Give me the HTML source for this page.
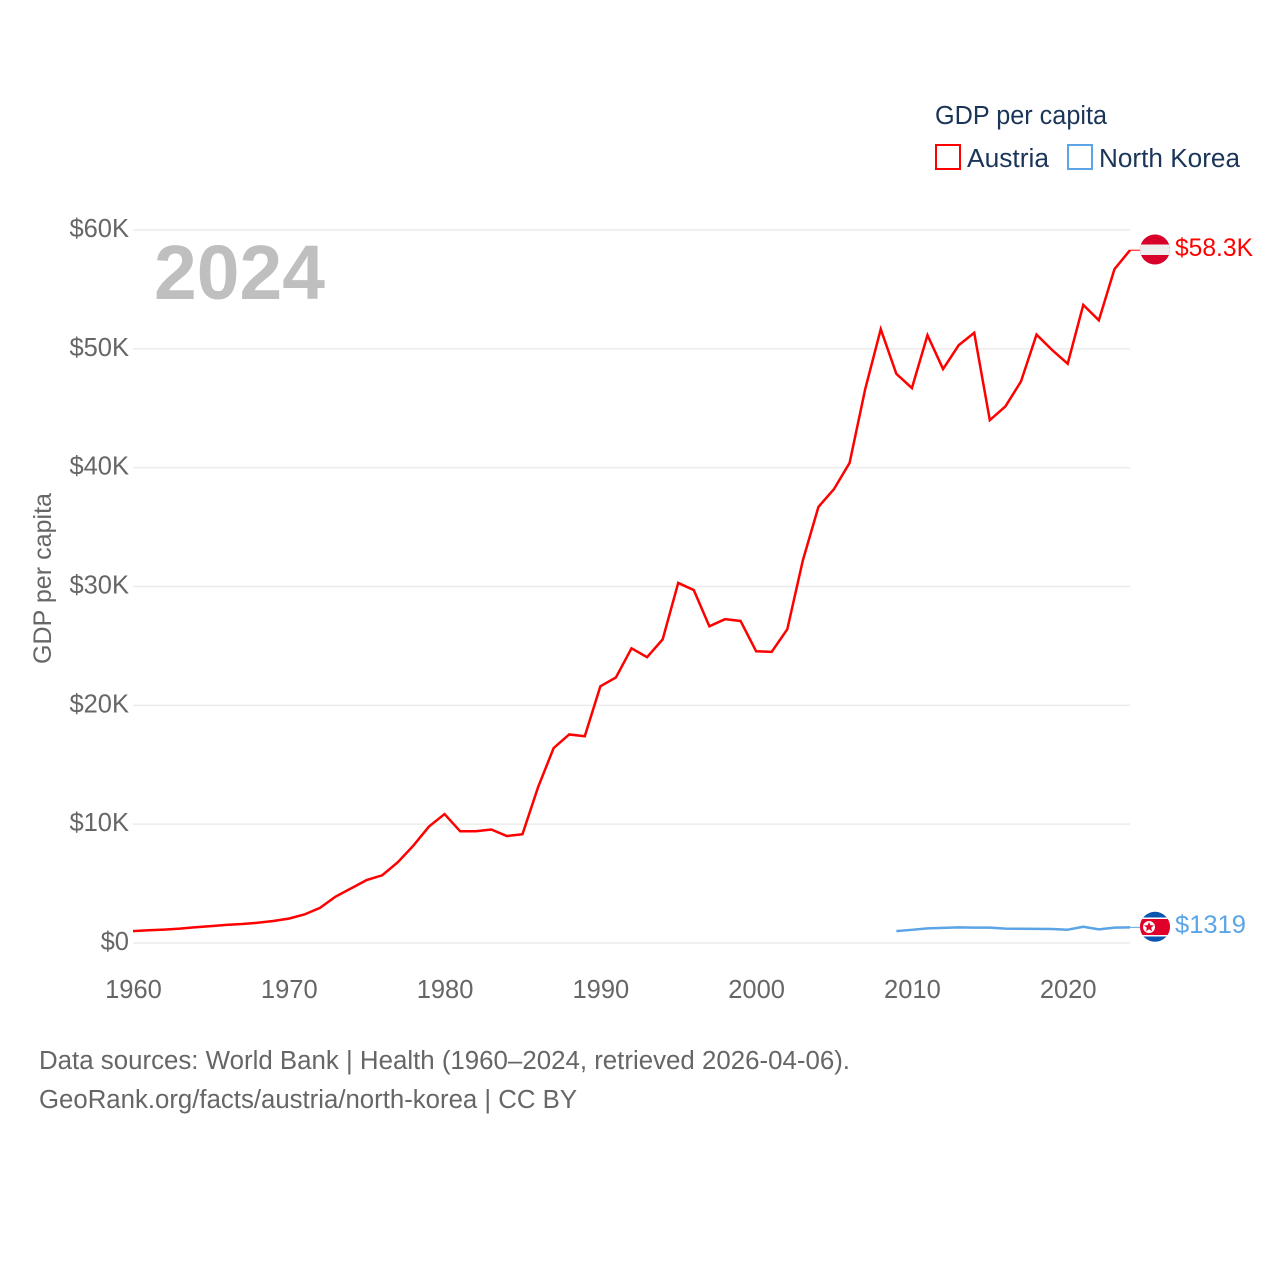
<!DOCTYPE html>
<html lang="en">
<head>
<meta charset="utf-8">
<title>GDP per capita: Austria and North Korea</title>
<style>
  html, body { margin: 0; padding: 0; background: #fff; }
  svg { display: block; font-family: "Liberation Sans", sans-serif; }
  .tick { font-size: 25.5px; fill: #666; }
</style>
</head>
<body>
<svg id="chart" width="1280" height="1280" viewBox="0 0 1280 1280" xmlns="http://www.w3.org/2000/svg">
  <defs>
    <clipPath id="clip-at"><circle cx="1155" cy="249.5" r="15"/></clipPath>
    <clipPath id="clip-kp"><circle cx="1155" cy="926.8" r="15"/></clipPath>
  </defs>
  <rect width="1280" height="1280" fill="#fff"/>

  <g id="grid"></g>
  <g id="y-ticks"></g>
  <g id="x-ticks"></g>

  <text x="154" y="299" font-size="77" font-weight="700" fill="#bfbfbf" textLength="171" lengthAdjust="spacingAndGlyphs">2024</text>

  <text transform="translate(51,664) rotate(-90)" font-size="25" fill="#666" textLength="171" lengthAdjust="spacingAndGlyphs">GDP per capita</text>

  <g id="series"></g>

  <g clip-path="url(#clip-at)">
    <rect x="1139" y="233" width="32" height="33" fill="#d8002a"/>
    <rect x="1139" y="244.5" width="32" height="10.5" fill="#eeeeee"/>
  </g>
  <g clip-path="url(#clip-kp)">
    <rect x="1139" y="910" width="32" height="34" fill="#0b55b0"/>
    <rect x="1139" y="917.5" width="32" height="19" fill="#ffffff"/>
    <rect x="1139" y="919" width="32" height="16" fill="#e0002a"/>
    <circle cx="1149" cy="927" r="6" fill="#fff"/>
    <polygon points="1149,921.8 1150.3,925.3 1154,925.4 1151.1,927.7 1152.1,931.3 1149,929.2 1145.9,931.3 1146.9,927.7 1144,925.4 1147.7,925.3" fill="#e0002a"/>
  </g>

  <text x="1175" y="256" font-size="25" fill="#ff0000" textLength="78" lengthAdjust="spacingAndGlyphs">$58.3K</text>
  <text x="1175" y="933" font-size="25" fill="#5ba4e6" textLength="71" lengthAdjust="spacingAndGlyphs">$1319</text>

  <g>
    <text x="935" y="124" font-size="25.5" fill="#1a3557" textLength="172" lengthAdjust="spacingAndGlyphs">GDP per capita</text>
    <g>
      <rect x="936" y="145" width="24" height="24" fill="none" stroke="#ff0000" stroke-width="2"/>
      <text x="967" y="167" font-size="25.5" fill="#1a3557" textLength="82" lengthAdjust="spacingAndGlyphs">Austria</text>
    </g>
    <g>
      <rect x="1068" y="145" width="24" height="24" fill="none" stroke="#5ba4e6" stroke-width="2"/>
      <text x="1099" y="167" font-size="25.5" fill="#1a3557" textLength="141" lengthAdjust="spacingAndGlyphs">North Korea</text>
    </g>
  </g>

  <text x="39" y="1069" font-size="25.5" fill="#666" textLength="811" lengthAdjust="spacingAndGlyphs">Data sources: World Bank | Health (1960–2024, retrieved 2026-04-06).</text>
  <text x="39" y="1108" font-size="25.5" fill="#666" textLength="538" lengthAdjust="spacingAndGlyphs">GeoRank.org/facts/austria/north-korea | CC BY</text>
</svg>

<script>
const yTicks = [0, 10, 20, 30, 40, 50, 60];
const yTickLabels = ["$0", "$10K", "$20K", "$30K", "$40K", "$50K", "$60K"];
const xTicks = [1960, 1970, 1980, 1990, 2000, 2010, 2020];
const austriaStartYear = 1960;
const austriaValues = [
  1.00, 1.07, 1.13, 1.21, 1.33, 1.42, 1.53, 1.60, 1.70, 1.85,
  2.05, 2.40, 2.95, 3.90, 4.60, 5.30, 5.70, 6.80, 8.20, 9.80,
  10.85, 9.40, 9.40, 9.55, 9.00, 9.15, 13.10, 16.40, 17.55, 17.40,
  21.60, 22.35, 24.80, 24.05, 25.55, 30.30, 29.70, 26.65, 27.25, 27.10,
  24.55, 24.50, 26.40, 32.20, 36.70, 38.20, 40.40, 46.60, 51.65, 47.90,
  46.70, 51.15, 48.30, 50.30, 51.35, 44.00, 45.15, 47.25, 51.20, 49.90,
  48.75, 53.70, 52.40, 56.70, 58.30
];
const koreaStartYear = 2009;
const koreaValues = [
  1.00, 1.11, 1.23, 1.27, 1.31, 1.29, 1.29, 1.21, 1.20, 1.19,
  1.18, 1.12, 1.37, 1.15, 1.29, 1.319
];

const NS = "http://www.w3.org/2000/svg";
const xScale = year => 133 + (year - 1960) * (1130 - 133) / 64;
const yScale = value => 943 - value * (943 - 230) / 60;

function make(tag, parent, attrs) {
  const el = document.createElementNS(NS, tag);
  Object.keys(attrs).forEach(k => el.setAttribute(k, attrs[k]));
  parent.appendChild(el);
  return el;
}

const gridGroup = document.getElementById("grid");
const yGroup = document.getElementById("y-ticks");
const xGroup = document.getElementById("x-ticks");
const seriesGroup = document.getElementById("series");

yTicks.forEach((v, i) => {
  const line = make("line", gridGroup, { x1: 133, x2: 1130, y1: yScale(v), y2: yScale(v), stroke: "#ececec", "stroke-width": 1.5 });
  
  
  const label = make("text", yGroup, { x: 129, y: yScale(v) + 7, "text-anchor": "end", class: "tick" });
  label.textContent = yTickLabels[i];
  
  
});

xTicks.forEach(year => {
  const label = make("text", xGroup, { x: xScale(year) + 0.5, y: 998, "text-anchor": "middle", class: "tick" });
  label.textContent = String(year);
  
  
});

function pointsFor(values, startYear) {
  return values.map((v, i) => xScale(startYear + i).toFixed(2) + "," + yScale(v).toFixed(2));
}

const austriaLine = make("polyline", seriesGroup, { points: pointsFor(austriaValues, austriaStartYear).join(" "), fill: "none", stroke: "#ff0000", "stroke-width": 2.5, "stroke-linejoin": "miter" });



const koreaLine = make("polyline", seriesGroup, { points: pointsFor(koreaValues, koreaStartYear).join(" "), fill: "none", stroke: "#5ba4e6", "stroke-width": 2.5, "stroke-linejoin": "round" });



const austriaEndY = yScale(austriaValues[austriaValues.length - 1]);
const austriaLeader = make("line", seriesGroup, { x1: 1130, x2: 1142, y1: austriaEndY, y2: austriaEndY, stroke: "#ff0000", "stroke-width": 1 });



const koreaEndY = yScale(koreaValues[koreaValues.length - 1]);
const koreaLeader = make("line", seriesGroup, { x1: 1130, x2: 1142, y1: koreaEndY, y2: koreaEndY, stroke: "#5ba4e6", "stroke-width": 1 });


</script>
</body>
</html>
